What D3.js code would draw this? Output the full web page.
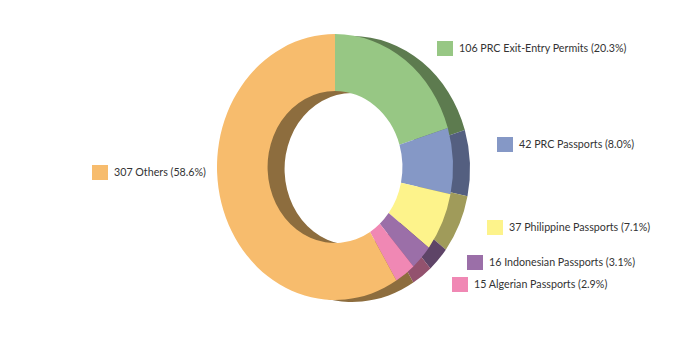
<!DOCTYPE html>
<html>
<head>
<meta charset="utf-8">
<script src="https://cdn.jsdelivr.net/npm/d3@7"></script>
<style>
html,body{margin:0;padding:0;background:#fff;}
text{font-family:Lato,"Open Sans",sans-serif;fill:#333;}
</style>
</head>
<body>
<svg id="chart" width="700" height="360"></svg>
<script>
const categories = ["PRC Exit-Entry Permits","PRC Passports","Philippine Passports","Indonesian Passports","Algerian Passports","Others"];
const counts = [106, 42, 37, 16, 15, 307];
const percentLabels = ["20.3%","8.0%","7.1%","3.1%","2.9%","58.6%"];

const frontColors = ["#97c784","#8598c6","#fdf38b","#9b6fa8","#f088b4","#f7bc6d"];
const shadowColors = ["#5d7b4f","#545f80","#a09b5a","#5e4467","#93526e","#8d6d3e"];
// legend layout (square top-left)
const legendPos = [[437,41],[497,137],[487,220],[467,255],[452,277],[92,165]];

const svg = d3.select("#chart");
const cx = 335, cy = 167, R = 133, r = 76, sx = 118/133;

const pie = d3.pie().sort(null).value(d => d)(counts);
const arc = d3.arc().outerRadius(R).innerRadius(r);

// shadow
svg.append("g")
  .attr("transform", `translate(${cx+17},${cy+2}) scale(${sx},1)`)
  .selectAll("path").data(pie).join("path")
  .attr("d", arc).attr("fill", (d,i) => shadowColors[i]);

// front
svg.append("g")
  .attr("transform", `translate(${cx},${cy}) scale(${sx},1)`)
  .selectAll("path").data(pie).join("path")
  .attr("d", arc).attr("fill", (d,i) => frontColors[i]);

// legend
const lg = svg.append("g").selectAll("g").data(categories).join("g")
  .attr("transform", (d,i) => `translate(${legendPos[i][0]},${legendPos[i][1]})`);
lg.append("rect").attr("width",16).attr("height",15).attr("fill",(d,i)=>frontColors[i]);
lg.append("text").attr("x",22).attr("y",7.5).attr("dy","0.35em")
  .style("font-size","10.7px")
  .text((d,i) => `${counts[i]} ${d} (${percentLabels[i]})`);
</script>
</body>
</html>
